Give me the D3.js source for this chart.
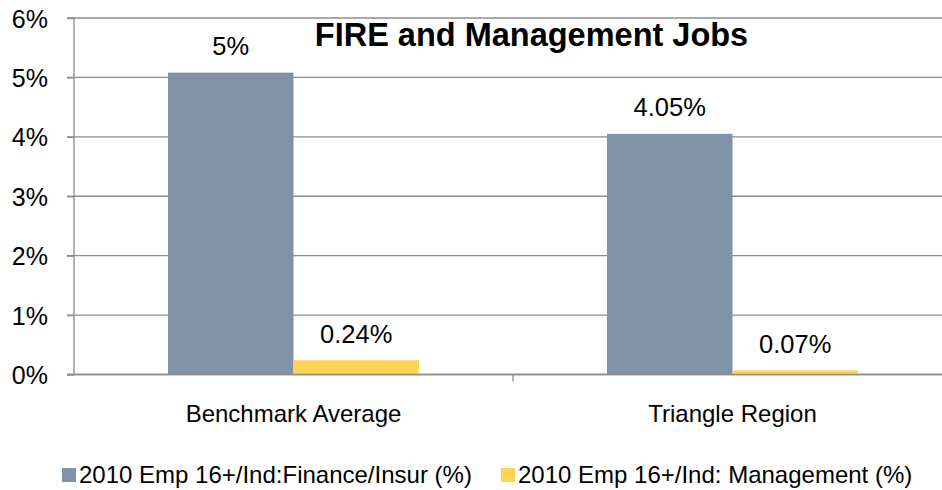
<!DOCTYPE html>
<html><head><meta charset="utf-8">
<script src="https://cdn.jsdelivr.net/npm/d3@7"></script>
<style>body{margin:0;background:#fff}svg{display:block}text{font-family:"Liberation Sans",Arial,sans-serif;fill:#000}</style>
</head><body><svg id="c" width="942" height="490"></svg>
<script>
const categories = ["Benchmark Average", "Triangle Region"];
const seriesNames = ["2010 Emp 16+/Ind:Finance/Insur (%)", "2010 Emp 16+/Ind: Management (%)"];
const financeValues = [5.08, 4.05];
const managementValues = [0.24, 0.07];
const financeLabels = ["5%", "4.05%"];
const managementLabels = ["0.24%", "0.07%"];
const yTicks = [0, 1, 2, 3, 4, 5, 6];
const colors = ["#7F92A8", "#FFD355"];
const title = "FIRE and Management Jobs";

const svg = d3.select("#c");
const pLeft = 74, pRight = 952, pTop = 18, pBottom = 374.5;
const x = d3.scaleBand().domain(categories).range([pLeft, pRight]).paddingInner(0).paddingOuter(0);
const y = d3.scaleLinear().domain([0, 6]).range([pBottom, pTop]);
const barW = 125.5;
const gap = (x.bandwidth() - 2 * barW) / 2;
const gridColor = "#8c8c8c";

// gridlines
svg.append("g").selectAll("line").data(yTicks).join("line")
  .attr("x1", pLeft - 7).attr("x2", pRight).attr("y1", d => y(d)).attr("y2", d => y(d))
  .attr("stroke", gridColor).attr("stroke-width", 1.3);

// y axis
const yAxis = d3.axisLeft(y).tickValues(yTicks).tickFormat(d => d + "%").tickSize(7).tickPadding(12);
const ga = svg.append("g").attr("transform", `translate(${pLeft},0)`).call(yAxis);
ga.select(".domain").attr("stroke", gridColor).attr("stroke-width", 1.3).attr("d", `M0,${pTop}V${pBottom}`);
ga.selectAll(".tick line").attr("stroke", gridColor).attr("stroke-width", 1.3);
ga.selectAll(".tick text").attr("font-size", 25).attr("font-family", "Liberation Sans, Arial, sans-serif")
  .attr("fill", "#000").attr("dx", -7).attr("dy", "0.36em");

// x axis
const xAxis = d3.axisBottom(x).tickSize(0).tickPadding(0);
const gx = svg.append("g").attr("transform", `translate(0,${pBottom})`).call(xAxis);
gx.select(".domain").remove();
gx.selectAll(".tick text").attr("font-size", 24).attr("font-family", "Liberation Sans, Arial, sans-serif")
  .attr("fill", "#000").attr("y", 47.5).attr("dy", 0);
// category separators
svg.append("g").selectAll("line").data(categories.slice(1)).join("line")
  .attr("x1", d => x(d)).attr("x2", d => x(d)).attr("y1", pBottom).attr("y2", pBottom + 7)
  .attr("stroke", gridColor).attr("stroke-width", 1.3);

// bars
const series = [financeValues, managementValues];
const labels = [financeLabels, managementLabels];
series.forEach((vals, si) => {
  const g = svg.append("g");
  g.selectAll("rect").data(categories).join("rect")
    .attr("x", (c) => x(c) + gap + si * barW)
    .attr("y", (c, i) => y(vals[i]))
    .attr("width", barW)
    .attr("height", (c, i) => pBottom - y(vals[i]))
    .attr("fill", colors[si]);
  g.selectAll("text").data(categories).join("text")
    .attr("x", (c) => x(c) + gap + si * barW + barW / 2)
    .attr("y", (c, i) => y(vals[i]) - 17.5)
    .attr("text-anchor", "middle").attr("font-size", 25.5)
    .text((c, i) => labels[si][i]);
});

// redraw baseline over bars
svg.append("line").attr("x1", pLeft - 7).attr("x2", pRight).attr("y1", pBottom).attr("y2", pBottom)
  .attr("stroke", gridColor).attr("stroke-width", 1.3);

// title
svg.append("text").attr("x", 531.5).attr("y", 46).attr("text-anchor", "middle")
  .attr("font-size", 32.5).attr("font-weight", "bold").text(title);

// legend
const legX = [62, 501];
seriesNames.forEach((n, i) => {
  svg.append("rect").attr("x", legX[i]).attr("y", 468).attr("width", 14).attr("height", 14).attr("fill", colors[i]);
  svg.append("text").attr("x", legX[i] + 17).attr("y", 483).attr("font-size", 24).text(n);
});
</script></body></html>
